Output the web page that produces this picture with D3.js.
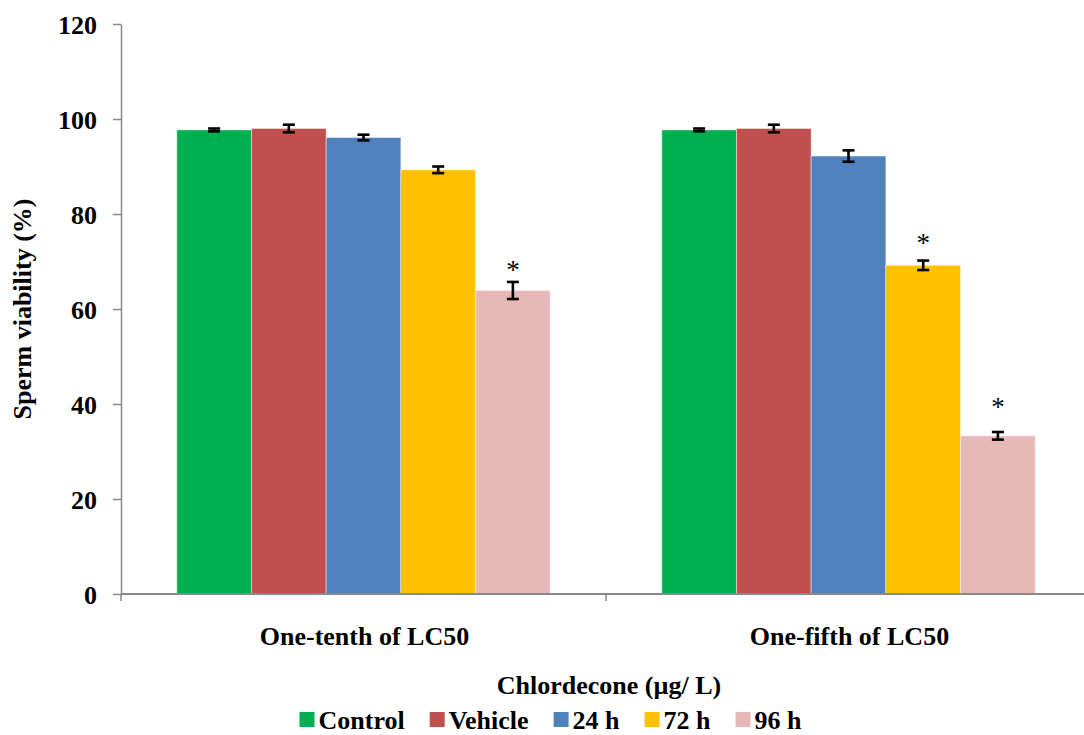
<!DOCTYPE html>
<html>
<head>
<meta charset="utf-8">
<script src="https://cdn.jsdelivr.net/npm/d3@7/dist/d3.min.js"></script>
<style>
  html, body { margin: 0; padding: 0; background: #fff; }
  svg { display: block; }
  svg text { font-family: "Liberation Serif", "Times New Roman", Times, serif !important; font-weight: 700; fill: #000; }
</style>
</head>
<body>
<svg id="chart" width="1084" height="735"></svg>
<script>
// Exposure groups on the x axis
const groups = ["One-tenth of LC50", "One-fifth of LC50"];
// Treatment series (legend order)
const series = ["Control", "Vehicle", "24 h", "72 h", "96 h"];
const colors = ["#00B050", "#C0504D", "#4F81BD", "#FFC000", "#E6B9B8"];

// Sperm viability (%) per series, one value per group
const control = [97.7, 97.7];
const vehicle = [98.0, 98.0];
const h24     = [96.1, 92.2];
const h72     = [89.3, 69.2];
const h96     = [63.9, 33.3];

// Standard errors
const controlErr = [0.3, 0.3];
const vehicleErr = [0.8, 0.8];
const h24Err     = [0.6, 1.2];
const h72Err     = [0.7, 1.0];
const h96Err     = [1.8, 0.8];

// Significance marks: level (in %) where each asterisk sits, null = no mark
const controlSig = [null, null];
const vehicleSig = [null, null];
const h24Sig     = [null, null];
const h72Sig     = [null, 75.6];
const h96Sig     = [69.9, 41.0];

const yTicks = [0, 20, 40, 60, 80, 100, 120];

const values = [control, vehicle, h24, h72, h96];
const errors = [controlErr, vehicleErr, h24Err, h72Err, h96Err];
const sigs   = [controlSig, vehicleSig, h24Sig, h72Sig, h96Sig];

const rows = [];
groups.forEach((g, gi) => {
  series.forEach((s, si) => {
    rows.push({ group: g, series: s, color: colors[si],
                value: values[si][gi], err: errors[si][gi], sig: sigs[si][gi] });
  });
});

const FONT = '"Liberation Serif", "Times New Roman", Times, serif';
const svg = d3.select("#chart");
const plotLeft = 121, plotRight = 1091, plotTop = 24, plotBottom = 594;
const axisColor = "#898989";

const x0 = d3.scaleBand().domain(groups).range([plotLeft, plotRight])
  .paddingInner(0.23).paddingOuter(0.115);
const x1 = d3.scaleBand().domain(series).range([0, x0.bandwidth()]);
const y = d3.scaleLinear().domain([0, 120]).range([plotBottom, plotTop]);

// Bars
svg.append("g").selectAll("rect").data(rows).join("rect")
  .attr("x", d => x0(d.group) + x1(d.series))
  .attr("y", d => y(d.value))
  .attr("width", x1.bandwidth())
  .attr("height", d => y(0) - y(d.value))
  .attr("fill", d => d.color)
  .attr("stroke", "rgba(255,255,255,0.45)")
  .attr("stroke-width", 1);

// Error bars
const eb = svg.append("g").attr("stroke", "#000").attr("stroke-width", 2.6);
rows.forEach(d => {
  const cx = x0(d.group) + x1(d.series) + x1.bandwidth() / 2;
  const y1 = y(d.value + d.err), y2 = y(d.value - d.err);
  eb.append("line").attr("x1", cx).attr("x2", cx).attr("y1", y1).attr("y2", y2);
  eb.append("line").attr("x1", cx - 6).attr("x2", cx + 6).attr("y1", y1).attr("y2", y1);
  eb.append("line").attr("x1", cx - 6).attr("x2", cx + 6).attr("y1", y2).attr("y2", y2);
});

// Asterisks
svg.append("g").selectAll("text").data(rows.filter(d => d.sig != null)).join("text")
  .attr("x", d => x0(d.group) + x1(d.series) + x1.bandwidth() / 2)
  .attr("y", d => y(d.sig))
  .attr("dy", "0.62em")
  .attr("text-anchor", "middle")
  .attr("font-family", FONT)
  .style("font-weight", "400")
  .style("font-size", "27px")
  .text("*");

// Y axis
const yAxis = svg.append("g").attr("transform", `translate(${plotLeft},0)`)
  .call(d3.axisLeft(y).tickValues(yTicks).tickSize(8).tickSizeOuter(0).tickPadding(16))
  .attr("font-family", FONT);
yAxis.select(".domain").attr("stroke", axisColor).attr("stroke-width", 1.5);
yAxis.selectAll(".tick line").attr("stroke", axisColor).attr("stroke-width", 1.5);
yAxis.selectAll(".tick text")
  .attr("dy", "0.36em")
  .attr("font-family", FONT)
  .style("font-size", "26px")
  .attr("fill", "#000");

// X axis: baseline and separators between groups
const xg = svg.append("g");
xg.append("line").attr("x1", plotLeft).attr("x2", plotRight).attr("y1", plotBottom).attr("y2", plotBottom)
  .attr("stroke", axisColor).attr("stroke-width", 2);
const step = x0.step();
const sepXs = d3.range(groups.length + 1).map(i => plotLeft + i * step);
xg.selectAll("line.sep").data(sepXs).join("line").attr("class", "sep")
  .attr("x1", d => d).attr("x2", d => d)
  .attr("y1", plotBottom).attr("y2", plotBottom + 7)
  .attr("stroke", axisColor).attr("stroke-width", 1.5);

// Group labels
svg.append("g").selectAll("text").data(groups).join("text")
  .attr("x", g => x0(g) + x0.bandwidth() / 2 + 1)
  .attr("y", 645)
  .attr("text-anchor", "middle")
  .attr("font-family", FONT)
  .style("font-size", "26px")
  .text(g => g);

// Axis titles
svg.append("text")
  .attr("x", (plotLeft + plotRight) / 2 + 3).attr("y", 694)
  .attr("text-anchor", "middle")
  .attr("font-family", FONT)
  .style("font-size", "26px")
  .text("Chlordecone (µg/ L)");

svg.append("text")
  .attr("transform", `translate(31,${(plotTop + plotBottom) / 2}) rotate(-90)`)
  .attr("text-anchor", "middle")
  .attr("font-family", FONT)
  .style("font-size", "26px")
  .text("Sperm viability (%)");

// Legend
const legend = svg.append("g");
const items = legend.selectAll("g").data(series).join("g");
items.append("rect").attr("width", 15).attr("height", 15).attr("y", 712)
  .attr("fill", (d, i) => colors[i]);
items.append("text").attr("x", 19).attr("y", 729)
  .attr("font-family", FONT)
  .style("font-size", "26px").text(d => d);
const widths = [];
items.each(function () {
  widths.push(19 + d3.select(this).select("text").node().getComputedTextLength());
});
const gap = 25;
const total = d3.sum(widths) + gap * (widths.length - 1);
let cursor = 550.5 - total / 2;
items.attr("transform", (d, i) => {
  const tx = cursor;
  cursor += widths[i] + gap;
  return `translate(${tx},0)`;
});
</script>
</body>
</html>
